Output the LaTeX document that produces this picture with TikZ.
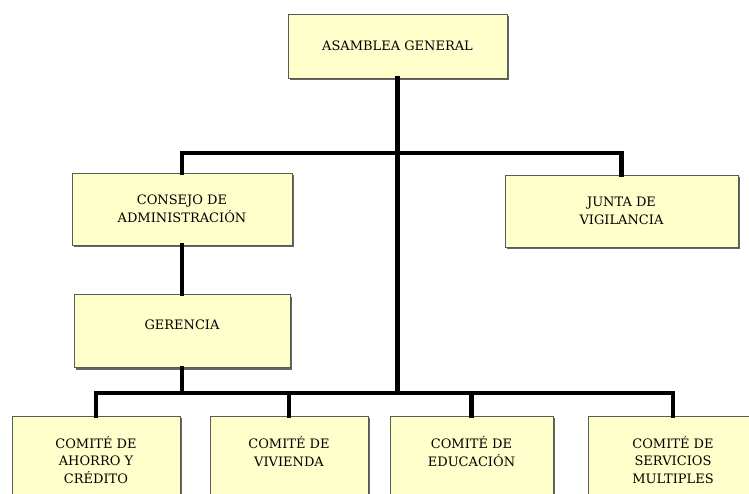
\documentclass[tikz,border=0pt]{standalone}
\usepackage{fontspec}
\setmainfont{DejaVu Serif}
\usepackage{tikz}
\usetikzlibrary{positioning, shadows}
\definecolor{boxYellow}{RGB}{255,255,204}
\definecolor{boxEdge}{RGB}{90,90,80}

\begin{document}
\begin{tikzpicture}[
    x=1pt, y=-1pt,
    box/.style={rectangle, draw=boxEdge, line width=0.8pt, fill=boxYellow,
                font=\fontsize{13}{17.5}\selectfont, align=center,
                inner sep=0pt,
                drop shadow={shadow xshift=2pt, shadow yshift=-2pt,
                             fill=black!60, opacity=1}},
    link/.style={line width=4.4pt, line cap=rect},
  ]
    \useasboundingbox (0,0) rectangle (749,493);
    \clip (0,0) rectangle (749,493);

    % Top
    \node[box, minimum width=219pt, minimum height=64pt] (asam) at (397.5,46) {ASAMBLEA GENERAL};

    % Second level
    \node[box, minimum width=220pt, minimum height=72pt] (cons) at (182,209) {CONSEJO DE\\ADMINISTRACIÓN};
    \node[box, minimum width=233pt, minimum height=72pt] (junta) at (621.5,211) {JUNTA DE\\VIGILANCIA};
    \node[box, minimum width=216pt, minimum height=73pt] (ger) at (182,331) {GERENCIA\\[-5pt]};

    % Committees
    \node[box, minimum width=168pt, minimum height=88pt] (ahorro) at (96,460) {COMITÉ DE\\AHORRO Y\\CRÉDITO};
    \node[box, minimum width=158pt, minimum height=88pt] (viv) at (289,460) {COMITÉ DE\\VIVIENDA\\\mbox{}};
    \node[box, minimum width=163pt, minimum height=88pt] (edu) at (471.5,460) {COMITÉ DE\\EDUCACIÓN\\\mbox{}};
    \node[box, minimum width=170pt, minimum height=88pt] (serv) at (673,460) {COMITÉ DE\\SERVICIOS\\MULTIPLES};

    % Buses
    \coordinate (topbus) at (397.5,153);
    \coordinate (botbus) at (397.5,393);

    % Links
    \draw[link] (asam.south) -- (botbus);
    \draw[link] (cons.north) |- (topbus) -| (junta.north);
    \draw[link] (cons.south) -- (ger.north);
    \draw[link] (ger.south) -- (ger.south |- botbus);
    \draw[link] (ahorro.north) |- (botbus) -| (serv.north);
    \draw[link] (viv.north) -- (viv.north |- botbus);
    \draw[link] (edu.north) -- (edu.north |- botbus);
\end{tikzpicture}
\end{document}
